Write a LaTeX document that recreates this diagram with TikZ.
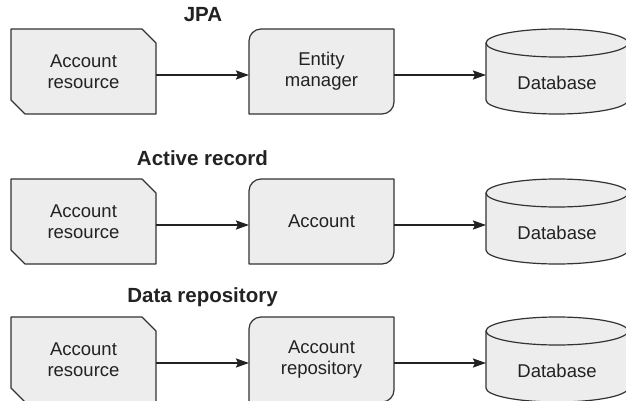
\documentclass[tikz,border=0pt]{standalone}
\usepackage{fontspec}
\setmainfont{Liberation Sans}
\usetikzlibrary{arrows.meta,calc,backgrounds}
\definecolor{boxfill}{HTML}{EDEDED}
\definecolor{boxline}{HTML}{333333}
\definecolor{ink}{HTML}{222222}

\tikzset{
  outline/.style={draw=boxline, fill=boxfill, line width=1.2pt, line join=round},
  frame/.style={minimum width=145pt, minimum height=85pt, inner sep=0pt, outer sep=0pt,
                align=center, text=ink, font=\fontsize{18.5}{21}\selectfont},
  dbframe/.style={frame, minimum width=142pt},
  lbl/.style={inner sep=0pt, text=ink, font=\fontsize{18.5}{21}\selectfont},
  ttl/.style={inner sep=0pt, text=ink, font=\fontsize{20.5}{24}\selectfont\bfseries},
  link/.style={draw=ink, line width=1.8pt,
               -{Stealth[length=13pt,width=9pt,inset=2pt]}},
  % box with chamfered upper-right and lower-left corners
  chamfer/.style={insert path={
      (#1.north west) -- ($(#1.north east)+(-14,0)$) -- ($(#1.north east)+(0,-14)$)
      -- (#1.south east) -- ($(#1.south west)+(14,0)$) -- ($(#1.south west)+(0,14)$) -- cycle}},
  % box with rounded upper-left and lower-right corners
  halfround/.style={insert path={
      ($(#1.north west)+(0,-12)$)
      .. controls ($(#1.north west)+(0,-5.4)$) and ($(#1.north west)+(5.4,0)$) .. ($(#1.north west)+(12,0)$)
      -- (#1.north east) -- ($(#1.south east)+(0,12)$)
      .. controls ($(#1.south east)+(0,5.4)$) and ($(#1.south east)+(-5.4,0)$) .. ($(#1.south east)+(-12,0)$)
      -- (#1.south west) -- cycle}},
}

% cylinder drawn over the frame node #1
\newcommand{\drawdb}[1]{%
  \path[outline] ($(#1.north west)+(0,-14)$) -- ($(#1.south west)+(0,14)$)
      arc[start angle=180, end angle=360, x radius=71, y radius=14]
      -- ($(#1.north east)+(0,-14)$)
      arc[start angle=0, end angle=180, x radius=71, y radius=14] -- cycle;
  \draw[draw=boxline, line width=1.2pt] ($(#1.north west)+(0,-14)$)
      arc[start angle=180, end angle=360, x radius=71, y radius=14];
}

\begin{document}
\begin{tikzpicture}[x=1pt, y=1pt]
\useasboundingbox (0,0) rectangle (626,-401);
\clip (0,0) rectangle (626,-401);

% ---- JPA ----
\node[ttl] (t1) at (203,-15) {JPA};
\node[frame] (res1) at (83.5,-71.5) {Account\\resource};
\node[frame] (mid1) at (321.5,-71.5) {Entity\\manager};
\node[dbframe] (db1) at (557,-71.5) {};
\node[lbl] (db1t) at (557,-83) {Database};

% ---- Active record ----
\node[ttl] (t2) at (202.5,-158) {Active record};
\node[frame] (res2) at (83.5,-221.5) {Account\\resource};
\node[frame] (mid2) at (321.5,-221.5) {Account};
\node[dbframe] (db2) at (557,-221.5) {};
\node[lbl] (db2t) at (557,-233) {Database};

% ---- Data repository ----
\node[ttl] (t3) at (202.5,-297) {Data repository};
\node[frame] (res3) at (83.5,-359.5) {Account\\resource};
\node[frame] (mid3) at (321.5,-359.5) {Account\\repository};
\node[dbframe] (db3) at (557,-359.5) {};
\node[lbl] (db3t) at (557,-371) {Database};

\begin{scope}[on background layer]
  \foreach \r in {res1,res2,res3} { \path[outline, chamfer=\r]; }
  \foreach \m in {mid1,mid2,mid3} { \path[outline, halfround=\m]; }
  \drawdb{db1}
  \drawdb{db2}
  \drawdb{db3}
\end{scope}

% connectors
\foreach \a/\b/\c in {res1/mid1/db1, res2/mid2/db2, res3/mid3/db3} {
  \draw[link] ($(\a.east)+(0,-3.5)$) -- ($(\b.west)+(0,-3.5)$);
  \draw[link] ($(\b.east)+(0,-3.5)$) -- ($(\c.west)+(0,-3.5)$);
}
\end{tikzpicture}
\end{document}
